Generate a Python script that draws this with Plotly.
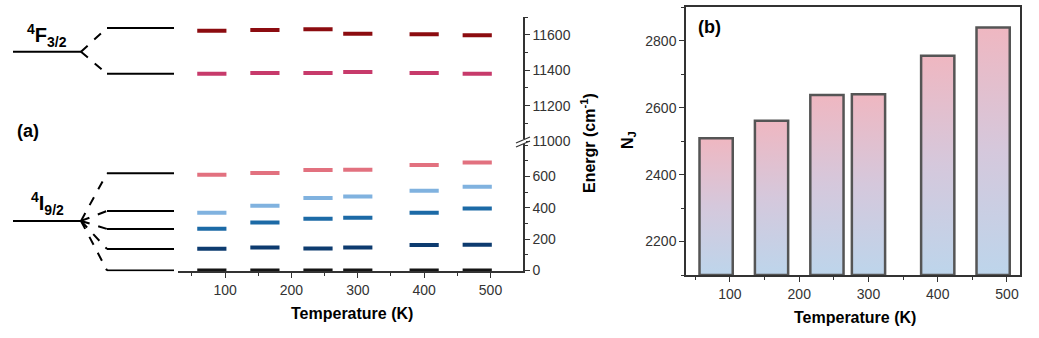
import plotly.graph_objects as go

# ---------------- data ----------------
temps = [80, 160, 240, 300, 400, 480]
# 4I9/2 Stark sublevels (cm-1) per temperature
I_1 = [0, 0, 0, 0, 0, 0]
I_2 = [138, 147, 140, 147, 162, 164]
I_3 = [266, 306, 330, 336, 368, 396]
I_4 = [368, 413, 462, 472, 509, 534]
I_5 = [611, 622, 641, 643, 673, 689]
# 4F3/2 Stark sublevels (cm-1)
F_1 = [11381, 11385, 11385, 11390, 11385, 11381]
F_2 = [11624, 11628, 11632, 11607, 11604, 11598]
# N_J values (panel b)
NJ = [2509, 2561, 2638, 2640, 2755, 2840]

# schematic diagram energies (left part of panel a)
diag_F = [11380, 11640]
diag_F_center = 11505
diag_I = [0, 137, 265, 380, 620]
diag_I_center = 316

x_ticks = [100, 200, 300, 400, 500]

I_colors = ["#151515", "#0d3b6f", "#1c6aa6", "#80b2df", "#e2717f"]
F_colors = ["#c73a6b", "#8c0c10"]

W, H = 1039, 338
FONT = "Liberation Sans, Arial, sans-serif"
AX = "#333333"


def px(x):
    return x / W


def py(y):
    return 1 - y / H


fig = go.Figure()

# ---------------- panel (a): dashes ----------------
half = 22


def dash_xy(vals):
    xs, ys = [], []
    for t, v in zip(temps, vals):
        xs += [t - half, t + half, None]
        ys += [v, v, None]
    return xs, ys


for vals, col in zip([I_1, I_2, I_3, I_4, I_5], I_colors):
    xs, ys = dash_xy(vals)
    fig.add_trace(go.Scatter(x=xs, y=ys, mode="lines", xaxis="x", yaxis="y",
                             line=dict(color=col, width=4), showlegend=False,
                             hoverinfo="skip"))
for vals, col in zip([F_1, F_2], F_colors):
    xs, ys = dash_xy(vals)
    fig.add_trace(go.Scatter(x=xs, y=ys, mode="lines", xaxis="x", yaxis="y3",
                             line=dict(color=col, width=4), showlegend=False,
                             hoverinfo="skip"))

# ---------------- panel (b): gradient bars ----------------
bw = 48
ybase = 2100
for t, v in zip(temps, NJ):
    fig.add_trace(go.Scatter(
        x=[t - bw / 2, t + bw / 2, t + bw / 2, t - bw / 2, t - bw / 2],
        y=[ybase, ybase, v, v, ybase],
        mode="lines", fill="toself", xaxis="x2", yaxis="y2",
        line=dict(color="#555555", width=2.5),
        fillgradient=dict(type="vertical",
                          colorscale=[[0, "#bdd5eb"], [0.5, "#d5c8dc"], [1, "#efb7c1"]]),
        showlegend=False, hoverinfo="skip"))

# ---------------- schematic diagram shapes ----------------
shapes = []
xl0, xl1 = px(13), px(81)
xr0, xr1 = px(107), px(174)
for e in diag_F:
    shapes.append(dict(type="line", xref="paper", yref="y3", x0=xr0, x1=xr1, y0=e, y1=e,
                       line=dict(color="black", width=2)))
    shapes.append(dict(type="line", xref="paper", yref="y3", x0=xl1, x1=xr0,
                       y0=diag_F_center, y1=e, line=dict(color="black", width=2, dash="dash")))
shapes.append(dict(type="line", xref="paper", yref="y3", x0=xl0, x1=xl1,
                   y0=diag_F_center, y1=diag_F_center, line=dict(color="black", width=2)))
for e in diag_I:
    shapes.append(dict(type="line", xref="paper", yref="y", x0=xr0, x1=xr1, y0=e, y1=e,
                       line=dict(color="black", width=2)))
    shapes.append(dict(type="line", xref="paper", yref="y", x0=xl1, x1=xr0,
                       y0=diag_I_center, y1=e, line=dict(color="black", width=2, dash="dash")))
shapes.append(dict(type="line", xref="paper", yref="y", x0=xl0, x1=xl1,
                   y0=diag_I_center, y1=diag_I_center, line=dict(color="black", width=2)))

# axis break marks
shapes.append(dict(type="rect", xref="paper", yref="paper", x0=px(520), x1=px(526),
                   y0=py(144), y1=py(139), fillcolor="white", line=dict(width=0)))
for dy in (0, 4):
    shapes.append(dict(type="line", xref="paper", yref="paper", x0=px(516), x1=px(530),
                       y0=py(144 + dy - 1), y1=py(138 + dy - 1),
                       line=dict(color=AX, width=1.3)))

# ---------------- annotations ----------------
ann = []


def text(x, y, s, size, bold=True, angle=0, color="black"):
    ann.append(dict(xref="paper", yref="paper", x=px(x), y=py(y), text=(f"<b>{s}</b>" if bold else s),
                    showarrow=False, xanchor="center", yanchor="middle", textangle=angle,
                    font=dict(family=FONT, size=size, color=color)))


text(47, 36, "<sup>4</sup>F<sub>3/2</sub>", 20)
text(47, 203, "<sup>4</sup>I<sub>9/2</sub>", 20)
text(28, 131, "(a)", 18)
text(709, 27, "(b)", 18)
text(352, 313, "Temperature (K)", 16)
text(855, 317, "Temperature (K)", 16)
text(588, 143, "Energr (cm<sup>-1</sup>)", 16, angle=-90)
text(628, 140, "N<sub>J</sub>", 16, angle=-90)

tickfont = dict(family=FONT, size=14, color=AX)
common = dict(showgrid=False, zeroline=False, showline=True, linecolor=AX, linewidth=1.5,
              ticks="outside", ticklen=5, tickwidth=1.3, tickcolor=AX, tickfont=tickfont,
              automargin=False, tickformat="d")

fig.update_layout(
    template="none",
    width=W, height=H,
    margin=dict(l=0, r=0, t=0, b=0, pad=0, autoexpand=False),
    font=dict(family=FONT, color=AX),
    paper_bgcolor="white", plot_bgcolor="rgba(0,0,0,0)",
    showlegend=False,
    shapes=shapes, annotations=ann,
    xaxis=dict(domain=[px(178), px(523)], range=[29, 549], anchor="y",
               tickvals=x_ticks, minor=dict(dtick=50, tick0=0, ticks="outside", ticklen=3,
                                            tickcolor=AX),
               **common),
    yaxis=dict(domain=[py(271.2), py(142)], range=[-5, 820], anchor="x", side="right",
               tickvals=[0, 200, 400, 600],
               minor=dict(dtick=100, tick0=0, ticks="outside", ticklen=3, tickcolor=AX),
               **common),
    yaxis3=dict(domain=[py(141), py(17.3)], range=[11000, 11700], anchor="x", side="right",
                tickvals=[11000, 11200, 11400, 11600],
                minor=dict(dtick=100, tick0=11000, ticks="outside", ticklen=3, tickcolor=AX),
                **common),
    xaxis2=dict(domain=[px(686), px(1020)], range=[36.5, 518.8], anchor="y2", mirror=True,
                tickvals=x_ticks, minor=dict(dtick=50, tick0=0, ticks="outside", ticklen=3,
                                             tickcolor=AX),
                **common),
    yaxis2=dict(domain=[py(275), py(7.3)], range=[2100, 2900], anchor="x2", mirror=True,
                tickvals=[2200, 2400, 2600, 2800],
                minor=dict(dtick=100, tick0=2100, ticks="outside", ticklen=3, tickcolor=AX),
                **common),
)

fig.write_html("out.html",
               config={"displayModeBar": False},
               post_script="document.body.style.margin='0';document.body.style.padding='0';"
                           "document.body.style.overflow='hidden';")
